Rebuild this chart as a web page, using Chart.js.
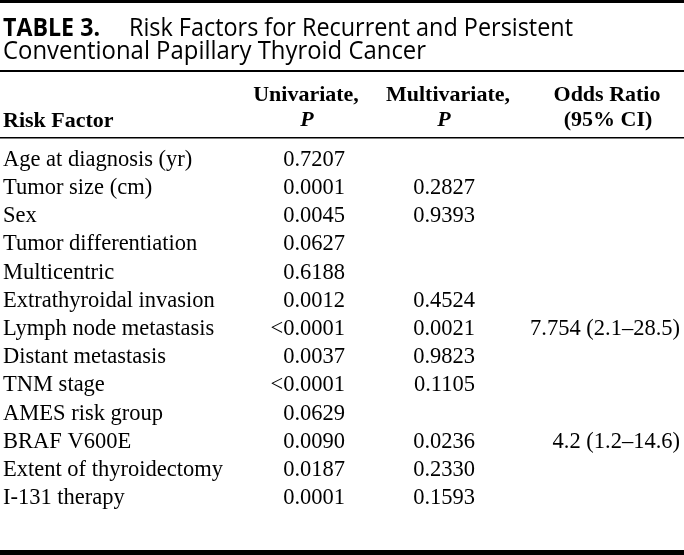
<!DOCTYPE html>
<html>
<head>
<meta charset="utf-8">
<script src="https://cdn.jsdelivr.net/npm/chart.js@4"></script>
<style>
  html, body { margin: 0; padding: 0; background: #fff; }
  #wrap { width: 684px; height: 555px; position: relative; }
</style>
</head>
<body>
<div id="wrap"><canvas id="c" width="684" height="555"></canvas></div>
<script>
// ---- data ----
const tableLabel = "TABLE 3.";
const tableTitle = ["Risk Factors for Recurrent and Persistent", "Conventional Papillary Thyroid Cancer"];
const columnHeaders = ["Risk Factor", "Univariate,", "Multivariate,", "Odds Ratio"];
const columnSubHeaders = ["", "P", "P", "(95% CI)"];
const riskFactors = [
  "Age at diagnosis (yr)", "Tumor size (cm)", "Sex", "Tumor differentiation",
  "Multicentric", "Extrathyroidal invasion", "Lymph node metastasis",
  "Distant metastasis", "TNM stage", "AMES risk group", "BRAF V600E",
  "Extent of thyroidectomy", "I-131 therapy"
];
const univariateP = [
  "0.7207", "0.0001", "0.0045", "0.0627", "0.6188", "0.0012", "<0.0001",
  "0.0037", "<0.0001", "0.0629", "0.0090", "0.0187", "0.0001"
];
const multivariateP = [
  "", "0.2827", "0.9393", "", "", "0.4524", "0.0021",
  "0.9823", "0.1105", "", "0.0236", "0.2330", "0.1593"
];
const oddsRatio = [
  "", "", "", "", "", "", "7.754 (2.1\u201328.5)",
  "", "", "", "4.2 (1.2\u201314.6)", "", ""
];

// ---- layout (not data) ----
const SERIF = '"Liberation Serif", "Times New Roman", serif';
const SANS = '"Open Sans", "Noto Sans", sans-serif';
const W = 684, H = 555;
const columns = [univariateP, multivariateP, oddsRatio];
const colRight = [345, 475, 680];
const headCenter = [306, 448, 607];
const subCenter = [307, 444, 608];

const tablePlugin = {
  id: 'tableDraw',
  beforeDraw(chart) {
    const ctx = chart.ctx;
    ctx.save();
    ctx.fillStyle = '#fff';
    ctx.fillRect(0, 0, W, H);
    ctx.restore();
  },
  afterDatasetsDraw(chart) {
    const ctx = chart.ctx;
    const yScale = chart.scales.y;
    ctx.save();
    ctx.fillStyle = '#000';
    // rules
    ctx.fillRect(0, 0, W, 3);
    ctx.fillRect(0, 70, W, 2);
    ctx.fillRect(0, 137, W, 1.5);
    ctx.fillRect(0, 550, W, 5);

    ctx.textBaseline = 'alphabetic';
    // title
    ctx.textAlign = 'left';
    ctx.font = 'bold 25.5px ' + SANS;
    ctx.fillText(tableLabel, 3, 36, 97);
    ctx.font = '25.5px ' + SANS;
    ctx.fillText(tableTitle[0], 129, 36, 444);
    ctx.fillText(tableTitle[1], 3, 58.5, 423);

    // headers
    ctx.font = 'bold 22px ' + SERIF;
    ctx.textAlign = 'left';
    ctx.fillText(columnHeaders[0], 3, 127);
    ctx.textAlign = 'center';
    for (let c = 0; c < 3; c++) {
      ctx.font = 'bold 22px ' + SERIF;
      ctx.fillText(columnHeaders[c + 1], headCenter[c], 101);
      const sub = columnSubHeaders[c + 1];
      ctx.font = (sub === 'P' ? 'italic bold 22px ' : 'bold 22px ') + SERIF;
      ctx.fillText(sub, subCenter[c], 126);
    }

    // body rows from the category scale
    ctx.font = '22.5px ' + SERIF;
    const meta = chart.getDatasetMeta(0);
    riskFactors.forEach((rf, i) => {
      const y = meta.data[i] ? meta.data[i].y : yScale.getPixelForValue(i);
      const base = y + 7.5;
      ctx.textAlign = 'left';
      ctx.fillText(rf, 3, base);
      ctx.textAlign = 'right';
      columns.forEach((col, c) => {
        if (col[i]) ctx.fillText(col[i], colRight[c], base);
      });
    });
    ctx.restore();
  }
};

new Chart(document.getElementById('c'), {
  type: 'scatter',
  data: {
    labels: riskFactors,
    datasets: columns.map((col, c) => ({
      label: columnHeaders[c + 1],
      data: riskFactors.map((rf, i) => ({ x: c, y: rf })),
      pointRadius: 0,
      pointHoverRadius: 0
    }))
  },
  options: {
    responsive: false,
    animation: false,
    events: [],
    layout: { padding: { top: 144, bottom: 44, left: 0, right: 0 } },
    plugins: { legend: { display: false }, tooltip: { enabled: false }, title: { display: false } },
    scales: {
      x: { type: 'linear', min: 0, max: 2, display: false },
      y: { type: 'category', labels: riskFactors, offset: true, display: false }
    }
  },
  plugins: [tablePlugin]
});
</script>
</body>
</html>
